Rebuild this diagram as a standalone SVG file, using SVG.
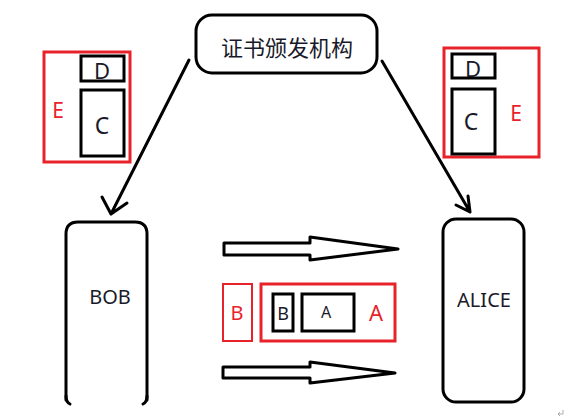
<svg xmlns="http://www.w3.org/2000/svg" width="568" height="420" viewBox="0 0 568 420">
<style>
.t{font-family:"Noto Sans","Noto Sans CJK SC",sans-serif;fill:#1a1a2a}
.r{font-family:"Noto Sans",sans-serif;fill:#e8222a}
.blk{fill:#fff;stroke:#000;stroke-width:3}
.red{fill:none;stroke:#e8222a;stroke-width:3}
.ln{fill:none;stroke:#000;stroke-width:3;stroke-linecap:round;stroke-linejoin:round}
</style>
<rect width="568" height="420" fill="#fff"/>
<g id="ca">
<rect x="196" y="15" width="181" height="58" rx="16" class="blk"/>
<text x="287" y="56" font-size="22" text-anchor="middle" class="t">证书颁发机构</text>
</g>
<g id="cert-left">
<rect x="44" y="52" width="86" height="110" class="red"/>
<rect x="81" y="56" width="43" height="25" class="blk"/>
<rect x="81" y="90" width="43" height="66" class="blk"/>
<text x="102" y="79" font-size="22" text-anchor="middle" class="t">D</text>
<text x="102" y="134" font-size="23" text-anchor="middle" class="t">C</text>
<text x="58" y="118" font-size="21" text-anchor="middle" class="r">E</text>
</g>
<g id="cert-right">
<rect x="444" y="48" width="95" height="109" class="red"/>
<rect x="452" y="54" width="43" height="24" class="blk"/>
<rect x="452" y="89" width="43" height="65" class="blk"/>
<text x="473" y="77" font-size="22" text-anchor="middle" class="t">D</text>
<text x="471" y="130" font-size="23" text-anchor="middle" class="t">C</text>
<text x="516" y="121" font-size="21" text-anchor="middle" class="r">E</text>
</g>
<g id="bob">
<path d="M66 400 L66 234 Q66 222 78 222 L135 222 Q147 222 147 234 L147 400" class="ln"/>
<path d="M66 396 Q66 402 70 404 M147 396 Q147 402 143 404" class="ln"/>
<text x="110" y="304" font-size="20" text-anchor="middle" class="t">BOB</text>
</g>
<g id="alice">
<rect x="443" y="219" width="81" height="183" rx="13" class="blk"/>
<text x="484" y="307" font-size="20" text-anchor="middle" class="t">ALICE</text>
</g>
<g id="packet">
<rect x="223" y="284" width="29" height="57" fill="none" stroke="#e8222a" stroke-width="2"/>
<text x="237" y="320" font-size="20" text-anchor="middle" class="r">B</text>
<rect x="261" y="284" width="134" height="57" class="red"/>
<rect x="273" y="294" width="20" height="37" class="blk"/>
<rect x="302" y="294" width="52" height="37" class="blk"/>
<text x="283" y="320" font-size="18" text-anchor="middle" class="t">B</text>
<text x="326" y="318" font-size="16" text-anchor="middle" class="t">A</text>
<text x="376" y="321" font-size="22" text-anchor="middle" class="r">A</text>
</g>
<g id="connectors">
<path d="M189 60 L111 214 M102 197 L111 214 L127 203" class="ln"/>
<path d="M382 61 L470 212 M456 205 L470 212 L468 196" class="ln"/>
<path d="M224 243 L310 243 L310 237 L398 249 L310 260 L310 255 L224 255 Z" class="ln" fill="#fff"/>
<path d="M223 367 L310 367 L310 362 L395 373 L310 383 L310 378 L223 378 Z" class="ln" fill="#fff"/>
<path d="M563 410 L563 414 L558 414 M560 412 L558 414 L560 416" fill="none" stroke="#999" stroke-width="0.8"/>
</g>
</svg>
